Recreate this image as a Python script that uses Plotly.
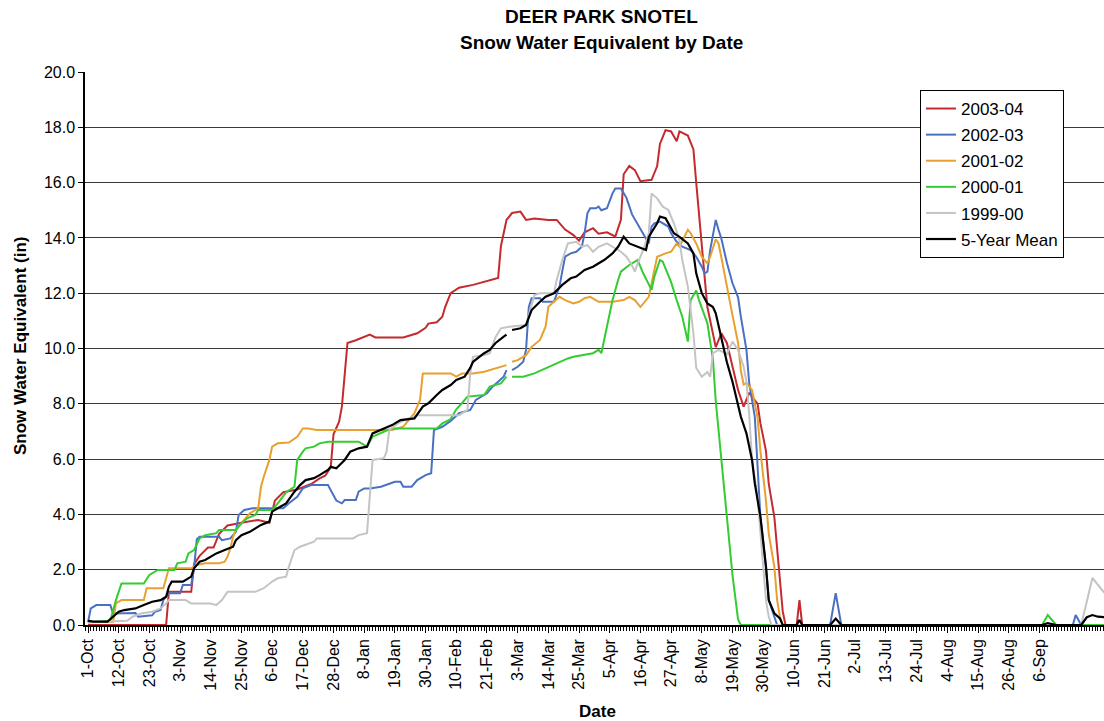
import plotly.graph_objects as go

# ---------------- data (water-year dates "MM-DD", SWE in inches) ----------------
red_dates = ["10-01","10-29","10-30","11-07","11-08","11-10","11-13","11-15","11-17","11-18",
             "11-20","11-25","12-01","12-05","12-07","12-10","12-15","12-20","12-23","12-25",
             "12-27","12-28","12-30","12-31","01-01","01-02","01-05","01-10","01-12","01-22",
             "01-27","01-30","01-31","02-03","02-05","02-06","02-08","02-11","02-16","02-20",
             "02-25","02-26","02-28","03-01","03-04","03-06","03-09","03-14","03-17","03-20",
             "03-23","03-25","03-27","03-30","04-01","04-04","04-07","04-09","04-10","04-12",
             "04-14","04-16","04-20","04-22","04-23","04-25","04-27","04-29","04-30","05-03",
             "05-05","05-06","05-07","05-08","05-09","05-10","05-12","05-13","05-15","05-17",
             "05-19","05-21","05-23","05-25","05-28","05-29","05-31","06-01","06-03","06-04",
             "06-05","06-06","06-07","06-11","06-12","06-13","09-30"]
red_swe = [0.0,0.0,1.2,1.2,2.2,2.5,2.8,2.8,3.3,3.4,
           3.6,3.7,3.8,3.7,4.5,4.8,4.9,5.1,5.3,5.4,
           5.7,6.9,7.35,7.9,9.2,10.2,10.3,10.5,10.4,10.4,
           10.55,10.75,10.9,10.95,11.15,11.5,12.0,12.2,12.3,12.4,
           12.55,13.7,14.65,14.9,14.95,14.65,14.7,14.65,14.65,14.3,
           14.1,13.9,14.2,14.35,14.15,14.2,14.05,14.65,16.3,16.6,
           16.45,16.05,16.1,16.6,17.4,17.9,17.85,17.5,17.85,17.7,
           17.2,16.0,14.8,13.55,12.6,11.5,10.55,10.05,10.55,10.2,
           9.35,8.5,7.9,8.4,8.0,7.3,6.3,5.1,3.9,2.7,
           1.5,0.5,0.0,0.0,0.9,0.0,0.0]

blue_dates = ["10-01","10-02","10-04","10-09","10-10","10-18","10-19","10-24","10-25","10-27",
              "10-28","10-30","11-03","11-04","11-07","11-08","11-09","11-10","11-17","11-18",
              "11-21","11-23","11-24","11-26","11-29","12-10","12-12","12-15","12-17","12-20",
              "12-26","12-28","12-29","12-31","01-01","01-05","01-06","01-08","01-10","01-14",
              "01-19","01-21","01-22","01-25","01-27","01-30","02-01","02-02","02-05","02-08",
              "02-10","02-11","02-15","02-17","02-21","02-23","02-27","02-28","02-29","03-01",
              "03-03","03-05","03-06","03-07","03-08","03-11","03-12","03-16","03-18","03-19",
              "03-20","03-22","03-24","03-26","03-27","03-28","03-29","03-31","04-01","04-02",
              "04-04","04-06","04-07","04-09","04-11","04-13","04-17","04-19","04-20","04-21",
              "04-23","04-26","04-27","04-29","05-01","05-04","05-06","05-08","05-09","05-10",
              "05-11","05-13","05-14","05-15","05-17","05-19","05-21","05-22","05-24","05-25",
              "05-27","05-28","05-29","05-31","06-01","06-03","06-04","06-23","06-25","06-27",
              "09-18","09-19","09-21","09-30"]
blue_swe = [0.1,0.6,0.72,0.72,0.42,0.43,0.3,0.35,0.48,0.54,
            0.9,1.15,1.15,1.45,1.45,2.05,3.1,3.19,3.19,3.07,
            3.13,3.37,3.98,4.16,4.22,4.22,4.4,4.64,4.94,5.06,
            5.06,4.7,4.5,4.4,4.52,4.52,4.82,4.94,4.94,5.0,
            5.18,5.18,5.0,5.0,5.24,5.42,5.49,7.05,7.17,7.38,
            7.55,7.66,7.78,8.14,8.38,8.62,8.98,9.22,None,9.22,
            9.34,9.52,9.95,11.5,11.82,11.82,11.69,11.69,12.24,12.8,
            13.32,13.44,13.5,13.68,14.17,14.89,15.07,15.07,15.13,15.0,
            15.07,15.61,15.79,15.79,15.45,14.85,14.17,13.8,14.41,14.53,
            14.59,14.41,14.17,13.86,13.68,13.56,13.32,12.96,12.72,12.78,
            13.56,14.65,14.29,13.98,13.1,12.36,11.85,11.15,9.95,8.75,
            7.53,5.72,3.92,2.11,0.9,0.3,0.0,0.0,1.15,0.0,
            0.0,0.36,0.0,0.0]

orange_dates = ["10-01","10-10","10-11","10-13","10-21","10-22","10-28","10-30","11-07","11-09",
                "11-12","11-17","11-19","11-20","11-21","11-22","11-23","11-25","11-27","11-28",
                "12-01","12-02","12-03","12-05","12-06","12-08","12-12","12-15","12-17","12-19",
                "12-22","01-18","01-22","01-24","01-26","01-28","01-29","02-08","02-10","02-12",
                "02-16","02-20","02-24","02-28","02-29","03-01","03-03","03-06","03-08","03-11",
                "03-13","03-14","03-16","03-18","03-20","03-23","03-25","03-27","03-29","04-01",
                "04-06","04-10","04-12","04-14","04-16","04-19","04-21","04-22","04-25","04-27",
                "04-29","04-30","05-03","05-04","05-06","05-08","05-10","05-11","05-13","05-14",
                "05-15","05-17","05-19","05-21","05-22","05-23","05-24","05-26","05-28","05-29",
                "05-31","06-01","06-03","06-04","06-05","06-06","09-30"]
orange_swe = [0.1,0.12,0.78,0.9,0.9,1.33,1.33,2.05,2.05,2.17,
              2.23,2.23,2.29,2.47,2.77,3.19,3.44,3.68,3.92,4.04,
              4.22,5.0,5.36,5.97,6.45,6.57,6.6,6.81,7.11,7.11,
              7.05,7.05,7.17,7.41,7.66,8.14,9.1,9.1,8.98,9.1,
              9.1,9.16,9.28,9.4,None,9.52,9.58,9.76,10.06,10.31,
              10.79,11.51,11.69,11.87,11.75,11.63,11.69,11.82,11.87,11.69,
              11.69,11.75,11.87,11.75,11.5,11.87,12.84,13.32,13.44,13.5,
              13.8,13.68,14.29,14.17,13.8,13.32,13.08,13.32,13.95,13.8,
              13.3,12.2,11.2,10.2,9.2,8.7,8.75,8.5,7.5,6.3,
              4.5,3.3,2.1,0.9,0.3,0.0,0.0]

green_dates = ["10-01","10-09","10-11","10-13","10-21","10-23","10-26","11-01","11-02","11-05",
               "11-06","11-08","11-10","11-12","11-16","11-17","11-23","11-25","11-27","11-30",
               "12-01","12-06","12-08","12-11","12-14","12-15","12-17","12-18","12-21","12-23",
               "12-26","01-06","01-09","01-11","01-15","01-18","02-03","02-05","02-08","02-10",
               "02-12","02-14","02-20","02-22","02-26","02-28","02-29","03-01","03-05","03-09",
               "03-13","03-17","03-21","03-23","03-27","03-30","04-01","04-02","04-03","04-04",
               "04-06","04-08","04-09","04-12","04-15","04-17","04-20","04-21","04-23","04-24",
               "04-27","04-29","05-01","05-03","05-04","05-06","05-07","05-10","05-12","05-13",
               "05-15","05-17","05-19","05-21","05-22","09-07","09-09","09-12","09-30"]
green_swe = [0.1,0.15,0.9,1.5,1.5,1.81,1.99,1.99,2.23,2.29,
             2.59,2.71,3.13,3.25,3.32,3.44,3.44,3.68,3.86,3.98,
             4.16,4.16,4.4,4.8,5.0,5.97,6.27,6.39,6.45,6.57,
             6.63,6.63,6.45,6.81,6.99,7.11,7.11,7.29,7.45,7.8,
             8.02,8.26,8.32,8.62,8.74,8.98,None,8.98,8.98,9.1,
             9.28,9.46,9.64,9.7,9.76,9.83,9.95,9.83,10.31,10.8,
             11.75,12.48,12.78,13.02,13.2,12.72,12.12,12.6,13.2,13.14,
             12.4,11.75,11.15,10.25,11.75,12.1,11.75,10.91,9.6,8.1,
             6.0,4.0,1.8,0.2,0.0,0.0,0.36,0.0,0.0]

gray_dates = ["10-01","10-15","10-17","10-20","10-24","10-27","10-29","10-30","11-05","11-07",
              "11-14","11-16","11-18","11-20","11-30","12-03","12-06","12-08","12-11","12-12",
              "12-14","12-16","12-21","12-22","01-04","01-06","01-09","01-10","01-11","01-15",
              "01-16","01-17","01-20","01-24","01-27","02-11","02-14","02-15","02-16","02-20",
              "02-22","02-24","02-26","02-29","03-06","03-09","03-11","03-16","03-17","03-19",
              "03-21","03-24","03-26","03-28","03-30","04-01","04-04","04-06","04-09","04-11",
              "04-13","04-14","04-15","04-17","04-19","04-20","04-22","04-24","04-26","04-28",
              "04-30","05-01","05-03","05-05","05-06","05-08","05-10","05-11","05-12","05-14",
              "05-17","05-19","05-21","05-23","05-24","05-25","05-26","05-28","05-29","05-30",
              "05-31","06-01","06-02","09-21","09-25","09-29","09-30"]
gray_swe = [0.1,0.15,0.3,0.42,0.48,0.6,0.78,0.9,0.9,0.78,
            0.78,0.72,0.9,1.2,1.2,1.33,1.57,1.69,1.75,2.11,
            2.71,2.83,3.01,3.13,3.13,3.25,3.32,4.52,5.97,6.03,
            6.27,7.05,7.29,7.47,7.59,7.59,7.78,9.1,9.7,9.76,
            9.83,10.4,10.73,10.79,10.85,11.93,12.0,12.0,12.48,13.2,
            13.8,13.86,13.68,13.74,13.5,13.68,13.8,13.68,13.5,13.32,
            13.0,12.78,13.08,13.56,14.17,15.61,15.43,15.13,15.01,14.53,
            13.92,13.2,12.24,10.55,9.3,8.98,9.15,8.98,9.83,9.95,
            9.8,10.25,9.95,9.34,8.8,7.6,6.0,4.6,3.3,2.1,
            0.9,0.3,0.0,0.0,1.7,1.2,1.1]

mean_dates = ["10-01","10-03","10-08","10-10","10-12","10-14","10-18","10-21","10-24","10-27",
              "10-29","10-30","10-31","11-04","11-06","11-07","11-08","11-10","11-12","11-14",
              "11-16","11-19","11-22","11-23","11-25","11-28","11-30","12-02","12-05","12-06",
              "12-08","12-11","12-14","12-16","12-18","12-21","12-23","12-26","12-27","12-29",
              "01-01","01-03","01-06","01-09","01-11","01-14","01-18","01-21","01-26","01-29",
              "01-31","02-03","02-05","02-08","02-10","02-13","02-15","02-16","02-20","02-22",
              "02-24","02-27","02-28","02-29","03-01","03-04","03-06","03-08","03-11","03-13",
              "03-16","03-19","03-22","03-24","03-27","03-30","04-03","04-06","04-08","04-10",
              "04-12","04-15","04-18","04-19","04-22","04-23","04-25","04-28","04-30","05-03",
              "05-05","05-06","05-08","05-10","05-12","05-13","05-15","05-17","05-19","05-22",
              "05-24","05-26","05-27","05-29","05-31","06-01","06-03","06-05","06-06","06-11",
              "06-12","06-13","06-23","06-25","06-27","09-07","09-09","09-12","09-21","09-23",
              "09-25","09-27","09-30"]
mean_swe = [0.15,0.12,0.12,0.3,0.48,0.54,0.6,0.72,0.84,0.9,
            1.02,1.39,1.57,1.57,1.69,1.75,2.05,2.29,2.35,2.47,
            2.59,2.71,2.83,3.07,3.25,3.37,3.5,3.62,3.74,4.1,
            4.22,4.4,4.82,5.06,5.24,5.31,5.42,5.61,5.72,5.67,
            5.97,6.27,6.39,6.45,6.93,7.05,7.23,7.41,7.47,7.9,
            8.02,8.32,8.5,8.68,8.86,8.98,9.3,9.52,9.83,9.95,
            10.19,10.43,10.5,None,10.67,10.73,10.85,11.39,11.69,11.87,
            12.0,12.3,12.54,12.6,12.84,12.96,13.2,13.44,13.68,14.04,
            13.8,13.68,13.56,14.04,14.53,14.77,14.71,14.17,14.04,13.8,
            13.44,12.72,12.0,11.63,11.5,11.27,10.4,9.5,8.8,7.53,
            6.93,5.97,5.12,3.92,2.11,0.9,0.42,0.24,0.0,0.0,
            0.18,0.0,0.0,0.23,0.0,0.0,0.07,0.0,0.0,0.28,
            0.36,0.3,0.28]

series_names = ["2003-04", "2002-03", "2001-02", "2000-01", "1999-00", "5-Year Mean"]
series_dates = [red_dates, blue_dates, orange_dates, green_dates, gray_dates, mean_dates]
series_values = [red_swe, blue_swe, orange_swe, green_swe, gray_swe, mean_swe]
series_colors = ["#C42A2E", "#4A70C4", "#E8A030", "#33CC33", "#C4C4C4", "#000000"]

# category-axis labels (every 11th day of the water year, 1-Oct ... 6-Sep)
x_tick_dates = ["10-01","10-12","10-23","11-03","11-14","11-25","12-06","12-17","12-28",
                "01-08","01-19","01-30","02-10","02-21","03-03","03-14","03-25","04-05",
                "04-16","04-27","05-08","05-19","05-30","06-10","06-21","07-02","07-13",
                "07-24","08-04","08-15","08-26","09-06"]
y_tick_vals = [0, 2, 4, 6, 8, 10, 12, 14, 16, 18, 20]


def to_date(md):
    m = int(md[:2])
    return f"{2003 if m >= 10 else 2004}-{md}"


fig = go.Figure()
for name, ds, vs, col in zip(series_names, series_dates, series_values, series_colors):
    fig.add_trace(go.Scatter(
        x=[to_date(d) for d in ds], y=vs, mode="lines", name=name,
        line=dict(color=col, width=2.2 if name == "5-Year Mean" else 2),
        connectgaps=False, legendgroup=name,
    ))

FONT = "Liberation Sans, Arial, sans-serif"
fig.update_layout(
    width=1104, height=721,
    margin=dict(l=85, r=0, t=72, b=96),
    paper_bgcolor="white", plot_bgcolor="white",
    font=dict(family=FONT, color="black", size=16),
    showlegend=True,
    legend=dict(x=0.8194, y=0.9675, xanchor="left", yanchor="top",
                bordercolor="black", borderwidth=1, bgcolor="white",
                font=dict(size=17, family=FONT), tracegroupgap=1,
                traceorder="grouped", itemwidth=30),
    xaxis=dict(
        type="date", automargin=False,
        range=["2003-09-29 22:12", "2004-09-29 03:50"],
        tickmode="array", tickvals=[to_date(d) for d in x_tick_dates],
        tickformat="%-d-%b", tickangle=-90,
        tickfont=dict(size=16, family=FONT),
        ticks="outside", ticklen=6, tickcolor="black",
        minor=dict(tickmode="linear", tick0="2003-10-01", dtick=86400000,
                   ticks="outside", ticklen=4, tickcolor="black", showgrid=False),
        showline=True, linecolor="black", linewidth=1.5,
        showgrid=False, zeroline=False,
    ),
    yaxis=dict(
        automargin=False,
        range=[0, 20], tickvals=y_tick_vals, tickformat=".1f",
        tickfont=dict(size=16, family=FONT),
        ticks="outside", ticklen=5, tickcolor="black",
        showline=True, linecolor="black", linewidth=1.5,
        showgrid=True, gridcolor="#3a3a3a", gridwidth=1, zeroline=False,
    ),
    annotations=[
        dict(text="<b>DEER PARK SNOTEL</b>", xref="paper", yref="paper",
             x=0.5064, y=1.1003, xanchor="center", yanchor="middle", showarrow=False,
             font=dict(size=19, family=FONT)),
        dict(text="<b>Snow Water Equivalent by Date</b>", xref="paper", yref="paper",
             x=0.5064, y=1.0542, xanchor="center", yanchor="middle", showarrow=False,
             font=dict(size=19, family=FONT)),
        dict(text="<b>Snow Water Equivalent (in)</b>", xref="paper", yref="paper",
             x=-0.0638, y=0.5063, xanchor="center", yanchor="middle", showarrow=False,
             textangle=-90, font=dict(size=17, family=FONT)),
        dict(text="<b>Date</b>", xref="paper", yref="paper",
             x=0.5025, y=-0.1573, xanchor="center", yanchor="middle", showarrow=False,
             font=dict(size=17, family=FONT)),
    ],
)

fig.write_html(
    "out.html",
    config={"displayModeBar": False},
    post_script="document.body.style.margin='0';document.body.style.overflow='hidden';",
)
